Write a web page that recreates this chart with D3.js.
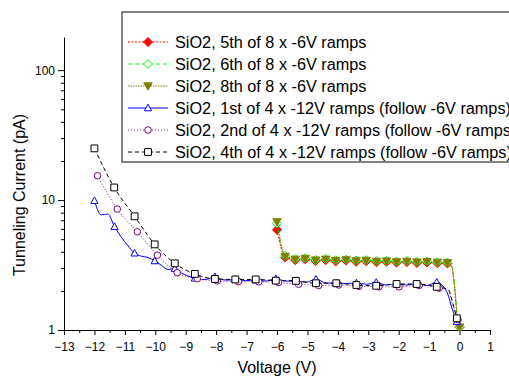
<!DOCTYPE html>
<html lang="en">
<head>
<meta charset="UTF-8">
<title>Tunneling Current vs Voltage</title>
<script src="https://cdn.jsdelivr.net/npm/d3@7"></script>
<style>
  body { margin: 0; background: #fff; }
  svg { display: block; font-family: "Liberation Sans", Arial, sans-serif; }
</style>
</head>
<body>
<svg width="509" height="376"></svg>
<script>
// ---- data ----
// -6V ramps (voltage in V, current in pA)
var v6 = [-6.0, -5.73, -5.4, -5.07, -4.73, -4.4, -4.07, -3.73, -3.4, -3.07, -2.73, -2.4, -2.07, -1.73, -1.4, -1.07, -0.73, -0.4, -0.26, -0.15, -0.08, 0];
var v6Marks = [0, 1, 2, 3, 4, 5, 6, 7, 8, 9, 10, 11, 12, 13, 14, 15, 16, 17, 21];
var ramp5th = [5.9, 3.62, 3.45, 3.5, 3.4, 3.45, 3.37, 3.42, 3.35, 3.38, 3.32, 3.35, 3.3, 3.33, 3.28, 3.31, 3.27, 3.25, 3.05, 1.95, 1.28, 1.05];
var ramp6th = [6.6, 3.72, 3.52, 3.57, 3.47, 3.52, 3.44, 3.48, 3.42, 3.45, 3.39, 3.41, 3.36, 3.39, 3.35, 3.37, 3.33, 3.31, 3.12, 2.05, 1.32, 1.06];
var ramp8th = [6.8, 3.68, 3.5, 3.55, 3.45, 3.5, 3.42, 3.46, 3.4, 3.43, 3.37, 3.39, 3.34, 3.37, 3.33, 3.35, 3.31, 3.29, 3.1, 2.0, 1.3, 1.05];

// -12V ramps
var v1st = [-12.0, -11.78, -11.56, -11.34, -11.12, -10.9, -10.68, -10.46, -10.24, -10.02, -9.8, -9.58, -9.36, -9.14, -8.92, -8.7, -8.48, -8.26, -8.04, -7.82, -7.6, -7.37,
            -7.04, -6.7, -6.37, -6.04, -5.71, -5.38, -5.05, -4.72, -4.38, -4.05, -3.72, -3.39, -3.06, -2.74, -2.4, -2.07, -1.74, -1.41, -1.08, -0.75, -0.42, -0.26, -0.09];
var ramp1st = [9.9, 7.7, 7.8, 6.25, 5.2, 4.45, 3.9, 3.7, 3.62, 3.4, 3.15, 2.92, 2.97, 2.75, 2.6, 2.5, 2.44, 2.47, 2.57, 2.45, 2.42, 2.45,
               2.4, 2.42, 2.38, 2.48, 2.38, 2.38, 2.33, 2.46, 2.3, 2.3, 2.28, 2.3, 2.25, 2.32, 2.22, 2.26, 2.22, 2.27, 2.2, 2.33, 1.97, 1.5, 1.16];
var v1stMarks = [0, 3, 6, 9, 12, 15, 18, 21, 23, 25, 27, 29, 31, 33, 35, 37, 39, 41, 44];

var v2nd = [-11.9, -11.25, -10.59, -9.93, -9.28, -8.62, -7.96, -7.27, -6.6, -5.95, -5.29, -4.63, -3.97, -3.31, -2.65, -1.99, -1.33, -0.67, -0.37, -0.22, -0.05];
var ramp2nd = [15.4, 8.53, 5.7, 3.77, 2.76, 2.48, 2.39, 2.36, 2.35, 2.32, 2.25, 2.2, 2.22, 2.17, 2.15, 2.15, 2.2, 2.1, 2.0, 1.55, 1.2];
var v2ndMarks = [0, 1, 2, 3, 4, 5, 6, 7, 8, 9, 10, 11, 12, 13, 14, 15, 16, 17, 20];

var v4th = [-12.0, -11.35, -10.68, -10.02, -9.36, -8.7, -8.04, -7.37, -6.7, -6.04, -5.38, -4.72, -4.05, -3.39, -2.74, -2.07, -1.41, -0.75, -0.37, -0.22, -0.09];
var ramp4th = [25.0, 12.5, 7.5, 4.56, 3.26, 2.7, 2.47, 2.45, 2.45, 2.4, 2.39, 2.29, 2.29, 2.22, 2.19, 2.26, 2.26, 2.15, 2.05, 1.6, 1.23];
var v4thMarks = [0, 1, 2, 3, 4, 5, 6, 7, 8, 9, 10, 11, 12, 13, 14, 15, 16, 17, 20];

var legendLabels = [
  'SiO2, 5th of 8 x -6V ramps',
  'SiO2, 6th of 8 x -6V ramps',
  'SiO2, 8th of 8 x -6V ramps',
  'SiO2, 1st of 4 x -12V ramps (follow -6V ramps)',
  'SiO2, 2nd of 4 x -12V ramps (follow -6V ramps)',
  'SiO2, 4th of 4 x -12V ramps (follow -6V ramps)'
];
var xTicks = d3.range(-13, 2);
var yTicks = [1, 10, 100];

// series table built from the arrays above
var series = [
  { v: v6, i: ramp5th, marks: v6Marks, color: '#ff0000', dash: '2,1.5', shape: 'diamond', fill: '#ff0000' },
  { v: v6, i: ramp6th, marks: v6Marks, color: '#00ff00', dash: '4,3', shape: 'diamond', fill: '#fff' },
  { v: v6, i: ramp8th, marks: v6Marks, color: '#808000', dash: '1.5,1', shape: 'down', fill: '#808000' },
  { v: v1st, i: ramp1st, marks: v1stMarks, color: '#0000ff', dash: null, shape: 'up', fill: '#fff' },
  { v: v2nd, i: ramp2nd, marks: v2ndMarks, color: '#800080', dash: '1,2', shape: 'circle', fill: '#fff' },
  { v: v4th, i: ramp4th, marks: v4thMarks, color: '#000000', dash: '4,3', shape: 'square', fill: '#fff' }
];

var svg = d3.select('svg');
var x = d3.scaleLinear().domain([-13, 1]).range([64, 490]);
var y = d3.scaleLog().domain([1, 180]).range([330, 37]);

function markerPath(shape) {
  if (shape === 'square') return 'M-3.4,-3.4h6.8v6.8h-6.8z';
  if (shape === 'diamond') return 'M0,-4.5L4.5,0L0,4.5L-4.5,0Z';
  if (shape === 'up') return 'M0,-3.8L3.6,2.8L-3.6,2.8Z';
  if (shape === 'down') return 'M0,4.2L4.2,-3.2L-4.2,-3.2Z';
  return d3.symbol(d3.symbolCircle, 34)();
}

// axes
svg.append('g').attr('transform', 'translate(0,330)')
  .call(d3.axisBottom(x).tickValues(xTicks).tickSize(5).tickPadding(7).tickSizeOuter(0));
svg.append('g').attr('transform', 'translate(0,330)')
  .call(d3.axisBottom(x).tickValues(d3.range(-12.5, 1, 1)).tickSize(3).tickFormat('').tickSizeOuter(0))
  .select('.domain').remove();

svg.append('g').attr('transform', 'translate(64,0)')
  .call(d3.axisLeft(y).tickValues(yTicks).tickFormat(d3.format('d')).tickSize(6).tickPadding(3).tickSizeOuter(0));
var yMinor = [];
[1, 10, 100].forEach(function (d) {
  d3.range(2, 10).forEach(function (k) { if (d * k <= 180) yMinor.push(d * k); });
});
svg.append('g').attr('transform', 'translate(64,0)')
  .call(d3.axisLeft(y).tickValues(yMinor).tickSize(3).tickFormat('').tickSizeOuter(0))
  .select('.domain').remove();

svg.selectAll('.tick text').attr('font-size', 12).attr('fill', '#000').attr('font-family', '"Liberation Sans", Arial, sans-serif');
svg.selectAll('.domain, .tick line').attr('stroke', '#000');

// curves
var line = d3.line().curve(d3.curveMonotoneX);
series.forEach(function (s) {
  var pts = s.v.map(function (v, k) { return [x(v), y(s.i[k])]; });
  svg.append('path')
    .attr('d', line(pts))
    .attr('fill', 'none')
    .attr('stroke', s.color)
    .attr('stroke-width', 1)
    .attr('stroke-dasharray', s.dash);
  svg.append('g').selectAll('path')
    .data(s.marks)
    .enter().append('path')
    .attr('transform', function (k) { return 'translate(' + pts[k][0] + ',' + pts[k][1] + ')'; })
    .attr('d', markerPath(s.shape))
    .attr('fill', s.fill)
    .attr('stroke', s.color)
    .attr('stroke-width', 1);
});

// legend (runs off the right edge, as in the original)
var lg = svg.append('g');
lg.append('rect')
  .attr('x', 122).attr('y', 12).attr('width', 420).attr('height', 150)
  .attr('fill', '#fff').attr('stroke', '#333').attr('stroke-width', 1.2);
series.forEach(function (s, k) {
  var ly = 42 + 22 * k;
  lg.append('line')
    .attr('x1', 128).attr('x2', 168).attr('y1', ly).attr('y2', ly)
    .attr('stroke', s.color).attr('stroke-width', 1).attr('stroke-dasharray', s.dash);
  lg.append('path')
    .attr('transform', 'translate(148,' + ly + ')')
    .attr('d', markerPath(s.shape))
    .attr('fill', s.fill).attr('stroke', s.color).attr('stroke-width', 1);
  lg.append('text')
    .attr('x', 175).attr('y', ly).attr('dy', '0.36em')
    .attr('font-size', 16.25).attr('fill', '#000')
    .text(legendLabels[k]);
});

// axis titles
svg.append('text')
  .attr('x', 277).attr('y', 373)
  .attr('text-anchor', 'middle').attr('font-size', 16)
  .text('Voltage (V)');
svg.append('text')
  .attr('transform', 'translate(25,195) rotate(-90)')
  .attr('text-anchor', 'middle').attr('font-size', 16)
  .text('Tunneling Current (pA)');
</script>
</body>
</html>
